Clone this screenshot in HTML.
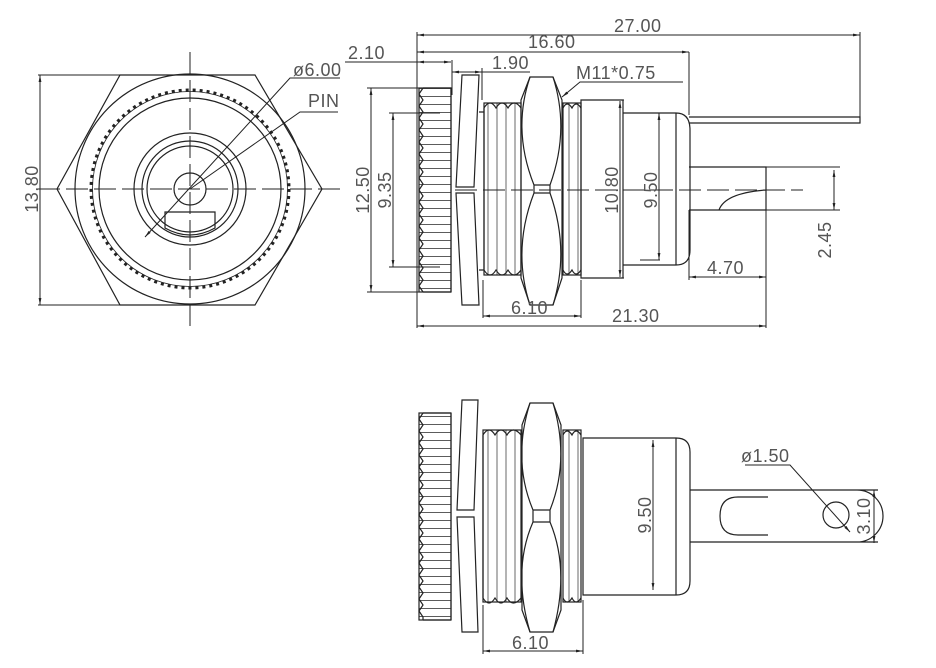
<!DOCTYPE html>
<html><head><meta charset="utf-8"><style>
html,body{margin:0;padding:0;background:#fff;}
svg{display:block;}
text{font-family:"Liberation Sans",sans-serif;font-size:18px;fill:#555;letter-spacing:0.5px;}
</style></head><body>
<svg width="936" height="668" viewBox="0 0 936 668" xmlns="http://www.w3.org/2000/svg">
<defs>
<pattern id="kn" width="10" height="8" patternUnits="userSpaceOnUse">
<path d="M0 0.5H10" stroke="#333" stroke-width="0.8"/>
</pattern>
<pattern id="th" width="9" height="10" patternUnits="userSpaceOnUse">
<path d="M2 0V10" stroke="#444" stroke-width="0.8"/>
</pattern>
<marker id="a" viewBox="0 0 10 10" refX="10" refY="5" markerWidth="7" markerHeight="7" orient="auto-start-reverse"><path d="M0 3L10 5L0 7z" fill="#222"/></marker>
</defs>
<g fill="none" stroke="#222" stroke-width="1.2">
<!-- FRONT VIEW -->
<polygon points="120,75 255,75 322,189 255,305 120,305 57,189"/>
<circle cx="190" cy="189" r="115"/>
<circle cx="190" cy="189" r="99" stroke-width="3" stroke-dasharray="3 4"/>
<circle cx="190" cy="189" r="97.5" stroke-width="0.8"/>
<circle cx="190" cy="189" r="91"/>
<circle cx="190" cy="189" r="56"/>
<circle cx="190" cy="189" r="48"/>
<circle cx="190" cy="189" r="43"/>
<circle cx="190" cy="189" r="16"/>
<path d="M165,212 H215 V228 Q190,242 165,228 Z"/>
<g stroke-dasharray="22 6" stroke-width="1"><path d="M38,189 H340 M190,52 V328"/></g>
<path d="M38,75 H120 M38,305 H120" stroke-width="1"/>
<path d="M40,75 V305" stroke-width="1" marker-start="url(#a)" marker-end="url(#a)"/>
<path d="M145,237 L290,78 H340" stroke-width="1" marker-start="url(#a)"/>
<path d="M190,189 L300,112 H338" stroke-width="1"/>

<!-- SIDE VIEW TOP -->
<rect x="419" y="88" width="32" height="204" fill="url(#kn)"/>
<path d="M423,88 l-4,6 4,6 -4,6 4,6 -4,6 4,6 -4,6 4,6 -4,6 4,6 -4,6 4,6 -4,6 4,6 -4,6 4,6 -4,6 4,6 -4,6 4,6 -4,6 4,6 -4,6 4,6 -4,6 4,6 -4,6 4,6 -4,6 4,6 -4,6 4,6 -4,6 4,6 L423,292"/>
<path d="M451,88 V292 M423,88 H451 M423,292 H451"/>
<path d="M462,75 H479 L474,187 H456 Z M456,193 H474 L479,305 H462 Z"/>
<path d="M479,112 H484 M479,270 H484"/>
<rect x="484" y="103" width="37" height="172" fill="url(#th)"/>
<path d="M484,108 q6,-10 12,0 q6,-10 12,0 q6,-10 13,0 M484,270 q6,10 12,0 q6,10 12,0 q6,10 13,0 M484,108 V270"/>
<path d="M530,77 H553 L562,100 V278 L553,305 H530 L521,278 V100 Z"/>
<path d="M530,77 Q512,130 534,185 H550 Q570,130 553,77 M530,305 Q512,250 534,193 H550 Q570,250 553,305 M534,185 V193 M550,185 V193"/>
<rect x="563" y="103" width="18" height="172" fill="url(#th)"/>
<path d="M563,108 q4,-8 9,0 q4,-8 9,0 M563,270 q4,8 9,0 q4,8 9,0"/>
<path d="M581,100 H623 V278 H581 Z"/>
<path d="M623,113 H676 Q690,113 690,130 V250 Q690,265 676,265 H623 M676,113 V265"/>
<path d="M689,117 H860 V123 H689"/>
<path d="M689,167 H766 V210 H689 M719,210 Q725,193 766,190"/>
<path d="M455,190 H803" stroke-dasharray="22 6" stroke-width="1"/>
<g stroke-width="1">
<path d="M417,32 V328 M860,32 V120 M689,52 V115 M766,170 V328 M766,167 H840 M766,210 H840 M483,280 V318 M581,280 V318 M367,88 H420 M389,113 H440 M389,267 H440 M367,292 H420 M689,210 V280 M452,60 V95 M482,68 V100 M600,100 H624 M600,278 H624 M640,113 H660 M640,260 H660"/>
<path d="M417,35 H860" marker-start="url(#a)" marker-end="url(#a)"/>
<path d="M417,52 H689" marker-start="url(#a)" marker-end="url(#a)"/>
<path d="M417,62 H451" marker-start="url(#a)" marker-end="url(#a)"/>
<path d="M345,62 H417"/>
<path d="M452,72 H482" marker-start="url(#a)" marker-end="url(#a)"/>
<path d="M482,72 H530"/>
<path d="M562,97 L580,82 H683" marker-start="url(#a)"/>
<path d="M371,88 V292" marker-start="url(#a)" marker-end="url(#a)"/>
<path d="M393,113 V267" marker-start="url(#a)" marker-end="url(#a)"/>
<path d="M620,101 V277" marker-start="url(#a)" marker-end="url(#a)"/>
<path d="M659,113 V260" marker-start="url(#a)" marker-end="url(#a)"/>
<path d="M834,170 V210" marker-start="url(#a)" marker-end="url(#a)"/>
<path d="M689,277 H766" marker-start="url(#a)" marker-end="url(#a)"/>
<path d="M483,316 H581" marker-start="url(#a)" marker-end="url(#a)"/>
<path d="M417,326 H766" marker-start="url(#a)" marker-end="url(#a)"/>
</g>

<!-- BOTTOM VIEW -->
<rect x="419" y="413" width="32" height="207" fill="url(#kn)"/>
<path d="M423,413 l-4,6 4,6 -4,6 4,6 -4,6 4,6 -4,6 4,6 -4,6 4,6 -4,6 4,6 -4,6 4,6 -4,6 4,6 -4,6 4,6 -4,6 4,6 -4,6 4,6 -4,6 4,6 -4,6 4,6 -4,6 4,6 -4,6 4,6 -4,6 4,6 -4,6 4,6 L423,620"/>
<path d="M451,413 V620 M423,413 H451 M423,620 H451"/>
<path d="M462,400 H478 L474,510 H457 Z M457,517 H474 L478,632 H462 Z"/>
<rect x="483" y="430" width="38" height="172" fill="url(#th)"/>
<path d="M483,435 q6,-10 12,0 q6,-10 12,0 q6,-10 14,0 M483,598 q6,10 12,0 q6,10 12,0 q6,10 14,0 M483,435 V598"/>
<path d="M530,403 H553 L561,425 V610 L553,632 H530 L522,610 V425 Z"/>
<path d="M530,403 Q512,460 533,510 H550 Q570,460 553,403 M530,632 Q512,570 533,522 H550 Q570,570 553,632 M533,510 V522 M550,510 V522"/>
<rect x="563" y="430" width="18" height="172" fill="url(#th)"/>
<path d="M563,435 q4,-8 9,0 q4,-8 9,0 M563,598 q4,8 9,0 q4,8 9,0"/>
<path d="M583,438 H676 Q690,438 690,452 V581 Q690,595 676,595 H583 Z M676,438 V595"/>
<path d="M690,490 H857 A26,26 0 0 1 857,542 H690 M857,490 H878 M857,542 H878"/>
<path d="M768,497 H738 Q720,497 720,516 Q720,535 738,535 H768"/>
<circle cx="836" cy="515" r="13"/>
<g stroke-width="1">
<path d="M483,605 V654 M583,600 V654"/>
<path d="M653,440 V590" marker-start="url(#a)" marker-end="url(#a)"/>
<path d="M874,490 V543" marker-start="url(#a)" marker-end="url(#a)"/>
<path d="M483,651 H583" marker-start="url(#a)" marker-end="url(#a)"/>
<path d="M745,465 H790 L850,532" marker-end="url(#a)"/>
</g>
</g>

<!-- TEXT -->
<text x="293" y="76">ø6.00</text>
<text x="308" y="107">PIN</text>
<text transform="translate(38,189) rotate(-90)" text-anchor="middle">13.80</text>
<text x="614" y="32">27.00</text>
<text x="528" y="48">16.60</text>
<text x="348" y="59">2.10</text>
<text x="492" y="69">1.90</text>
<text x="576" y="79">M11*0.75</text>
<text transform="translate(369,190) rotate(-90)" text-anchor="middle">12.50</text>
<text transform="translate(391,190) rotate(-90)" text-anchor="middle">9.35</text>
<text transform="translate(618,190) rotate(-90)" text-anchor="middle">10.80</text>
<text transform="translate(657,190) rotate(-90)" text-anchor="middle">9.50</text>
<text transform="translate(831,240) rotate(-90)" text-anchor="middle">2.45</text>
<text x="707" y="274">4.70</text>
<text x="511" y="314">6.10</text>
<text x="612" y="322">21.30</text>
<text transform="translate(651,515) rotate(-90)" text-anchor="middle">9.50</text>
<text x="741" y="462">ø1.50</text>
<text transform="translate(870,516) rotate(-90)" text-anchor="middle">3.10</text>
<text x="512" y="649">6.10</text>
</svg>
</body></html>
